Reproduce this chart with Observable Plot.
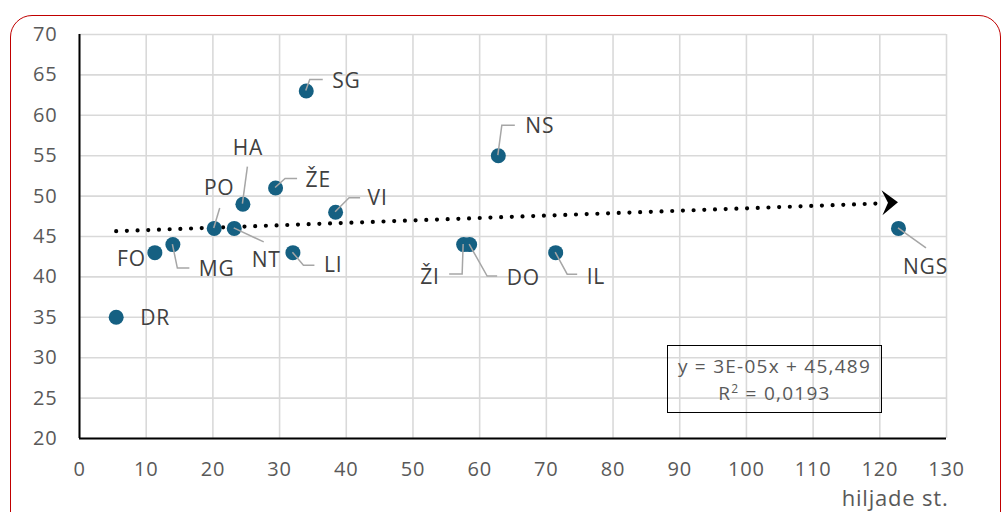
<!DOCTYPE html>
<html>
<head>
<meta charset="utf-8">
<script src="https://cdn.jsdelivr.net/npm/d3@7"></script>
<script src="https://cdn.jsdelivr.net/npm/@observablehq/plot@0.6"></script>
<style>
  html, body { margin: 0; padding: 0; background: #fff; }
  #wrap { position: relative; width: 1007px; height: 512px; overflow: hidden; font-family: "Open Sans", sans-serif; }
  #wrap svg { position: absolute; left: 0; top: 0; }
  #frame { position: absolute; left: 10px; top: 15px; width: 991px; height: 540px; border: 1.5px solid #c00000; border-radius: 22px; box-sizing: border-box; pointer-events: none; }
  #eq { position: absolute; left: 667px; top: 345px; width: 215px; height: 68px; border: 1.5px solid #000; box-sizing: border-box; color: #595959; font-size: 19px; letter-spacing: 1.25px; text-align: center; line-height: 27px; padding-top: 7px; }
  #eq sup { font-size: 12px; line-height: 0; }
</style>
</head>
<body>
<div id="wrap">
  <div id="frame"></div>
  <div id="eq">y = 3E-05x + 45,489<br>R<sup>2</sup> = 0,0193</div>
</div>
<script>
// ---- data ----
const names  = ["DR", "FO", "MG", "PO", "NT", "HA", "ŽE", "LI", "SG", "VI", "ŽI", "DO", "NS", "IL", "NGS"];
const xVals  = [5.5, 11.3, 14.0, 20.2, 23.2, 24.5, 29.4, 32.0, 34.0, 38.4, 57.6, 58.5, 62.8, 71.4, 122.8];
const yVals  = [35, 43, 44, 46, 46, 49, 51, 43, 63, 48, 44, 44, 55, 43, 46];
const xTicks = [0, 10, 20, 30, 40, 50, 60, 70, 80, 90, 100, 110, 120, 130];
const yTicks = [20, 25, 30, 35, 40, 45, 50, 55, 60, 65, 70];
const xTitle = "hiljade st.";
// trend line y = 3E-05 x + 45,489 (x in st.; axis in thousands)
const trendSlopePerThousand = 0.03;
const trendIntercept = 45.489;

// ---- label layout (pixel offsets from each point) ----
const labelLayout = {
  "DR":  {dx: 24, dy: 1,   anchor: "start",  leader: null},
  "FO":  {dx: -9, dy: 7,   anchor: "end",    leader: null},
  "MG":  {dx: 26, dy: 25,  anchor: "start",  leader: [[0,0],[5,24],[17,24]]},
  "PO":  {dx: 5,  dy: -40, anchor: "middle", leader: [[0,0],[6,-20]]},
  "NT":  {dx: 32, dy: 32,  anchor: "middle", leader: [[0,0],[30,14]]},
  "HA":  {dx: 5,  dy: -56, anchor: "middle", leader: [[0,0],[5,-37]]},
  "ŽE":  {dx: 30, dy: -8,  anchor: "start",  leader: [[0,0],[10,-9],[22,-9]]},
  "LI":  {dx: 31, dy: 13,  anchor: "start",  leader: [[0,0],[11,13],[22,13]]},
  "SG":  {dx: 26, dy: -10, anchor: "start",  leader: [[0,0],[4,-11],[17,-11]]},
  "VI":  {dx: 32, dy: -14, anchor: "start",  leader: [[0,0],[14,-14],[25,-14]]},
  "ŽI":  {dx: -24, dy: 33, anchor: "end",    leader: [[0,0],[-1,30],[-14,30]]},
  "DO":  {dx: 37, dy: 34,  anchor: "start",  leader: [[0,0],[18,32],[28,32]]},
  "NS":  {dx: 27, dy: -29, anchor: "start",  leader: [[0,0],[4,-30],[17,-30]]},
  "IL":  {dx: 31, dy: 25,  anchor: "start",  leader: [[0,0],[12,22],[22,22]]},
  "NGS": {dx: 27, dy: 39,  anchor: "middle", leader: [[0,0],[28,20]]}
};

const points = names.map((n, i) => ({name: n, x: xVals[i], y: yVals[i]}));
const xMin = d3.min(xVals), xMax = d3.max(xVals);
const trend = [xMin, xMax].map(x => ({x, y: trendIntercept + trendSlopePerThousand * x}));

const svgNS = "http://www.w3.org/2000/svg";

// leader lines drawn with the plot's own scales
function leaders(index, scales) {
  const g = document.createElementNS(svgNS, "g");
  points.forEach(p => {
    const L = labelLayout[p.name];
    if (!L.leader) return;
    const px = scales.x(p.x), py = scales.y(p.y);
    const path = document.createElementNS(svgNS, "path");
    path.setAttribute("d", "M" + L.leader.map(([a, b]) => (px + a) + "," + (py + b)).join("L"));
    path.setAttribute("fill", "none");
    path.setAttribute("stroke", "#a6a6a6");
    path.setAttribute("stroke-width", "1.5");
    g.appendChild(path);
  });
  return g;
}

// arrow head at the end of the trend line
function arrowHead(index, scales) {
  const a = trend[0], b = trend[1];
  const x1 = scales.x(a.x), y1 = scales.y(a.y), x2 = scales.x(b.x), y2 = scales.y(b.y);
  const ang = Math.atan2(y2 - y1, x2 - x1);
  const len = 16, half = 12.5, notch = 10;
  const pts = [[0, 0], [-len, -half], [-notch, 0], [-len, half]].map(([u, v]) => [
    x2 + u * Math.cos(ang) - v * Math.sin(ang),
    y2 + u * Math.sin(ang) + v * Math.cos(ang)
  ]);
  const poly = document.createElementNS(svgNS, "polygon");
  poly.setAttribute("points", pts.map(p => p.join(",")).join(" "));
  poly.setAttribute("fill", "#000");
  return poly;
}

const trendLineEnd = [trend[0], {x: trend[1].x - 2.0, y: trendIntercept + trendSlopePerThousand * (trend[1].x - 2.0)}];

const labelMarks = points.map(p => {
  const L = labelLayout[p.name];
  return Plot.text([p], {
    x: "x", y: "y", text: "name",
    dx: L.dx, dy: L.dy, textAnchor: L.anchor, lineAnchor: "middle",
    fill: "#404040", fontSize: 21
  });
});

const chart = Plot.plot({
  width: 1007,
  height: 512,
  marginLeft: 79,
  marginRight: 61,
  marginTop: 34,
  marginBottom: 74,
  style: {fontFamily: "'Open Sans', sans-serif", fontSize: "20px", color: "#595959", background: "transparent", overflow: "visible", letterSpacing: "0.8px"},
  x: {domain: [0, 130]},
  y: {domain: [20, 70]},
  marks: [
    Plot.gridX(xTicks, {stroke: "#d9d9d9", strokeOpacity: 1, strokeWidth: 1.6}),
    Plot.gridY(yTicks, {stroke: "#d9d9d9", strokeOpacity: 1, strokeWidth: 1.6}),
    Plot.axisX(xTicks, {tickSize: 0, tickPadding: 23, label: null, fill: "#595959", fontSize: 20}),
    Plot.axisY(yTicks, {tickSize: 0, tickPadding: 22, label: null, fill: "#595959", fontSize: 20}),
    Plot.ruleX([0], {stroke: "#000", strokeWidth: 2}),
    Plot.ruleY([20], {stroke: "#000", strokeWidth: 2}),
    Plot.line(trendLineEnd, {x: "x", y: "y", stroke: "#000", strokeWidth: 4.2, strokeDasharray: "0,10.7", strokeLinecap: "round"}),
    arrowHead,
    Plot.dot(points, {x: "x", y: "y", r: 7.5, fill: "#156082", stroke: "none"}),
    leaders,
    ...labelMarks,
    Plot.text([xTitle], {frameAnchor: "bottom-right", dx: 2, dy: 60, textAnchor: "end", lineAnchor: "middle", fill: "#595959", fontSize: 22, letterSpacing: "1.6px"})
  ]
});
document.getElementById("wrap").insertBefore(chart, document.getElementById("frame"));
</script>
</body>
</html>
